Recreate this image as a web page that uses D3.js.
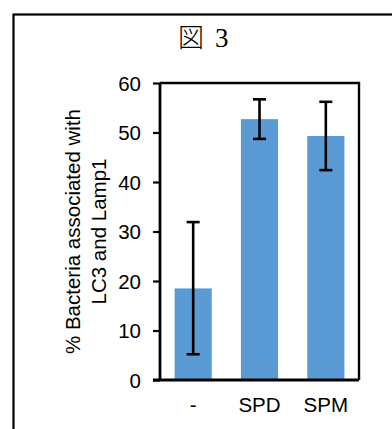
<!DOCTYPE html>
<html>
<head>
<meta charset="utf-8">
<script src="https://cdn.jsdelivr.net/npm/d3@7"></script>
<style>
  html, body { margin: 0; padding: 0; background: #fff; }
  svg { display: block; }
</style>
</head>
<body>
<div id="chart"></div>
<script>
const categories = ['-', 'SPD', 'SPM'];
const means = [18.5, 52.7, 49.3];
const errLow = [5.2, 48.7, 42.4];
const errHigh = [31.9, 56.7, 56.2];
const yTicks = [0, 10, 20, 30, 40, 50, 60];
const titleParts = ['図', '3'];
const yLabelLines = ['% Bacteria associated with', 'LC3 and Lamp1'];

const w = 392;
const h = 429;
const plot = {left: 160, right: 359, top: 83, bottom: 380};

const svg = d3.select('#chart').append('svg')
  .attr('width', w)
  .attr('height', h);

svg.append('rect')
  .attr('width', w).attr('height', h)
  .attr('fill', '#fff');

// outer frame (runs off the right and bottom edges)
svg.append('rect')
  .attr('x', 13.5).attr('y', 14.5)
  .attr('width', 400).attr('height', 440)
  .attr('fill', 'none')
  .attr('stroke', '#000')
  .attr('stroke-width', 2.2);

// title: kanji + serif digit
const title = svg.append('text')
  .attr('y', 46.5)
  .attr('fill', '#000');
title.append('tspan')
  .attr('x', 178)
  .attr('font-family', '"Noto Sans CJK JP", sans-serif')
  .attr('font-size', 26)
  .attr('font-weight', 300)
  .text(titleParts[0]);
title.append('tspan')
  .attr('x', 215)
  .attr('font-family', '"Liberation Serif", serif')
  .attr('font-size', 27)
  .text(titleParts[1]);

const x = d3.scaleBand()
  .domain(categories)
  .range([plot.left, plot.right])
  .paddingInner(0.44)
  .paddingOuter(0.22);

const y = d3.scaleLinear()
  .domain([0, 60])
  .range([plot.bottom, plot.top]);

// bars
svg.append('g')
  .selectAll('rect')
  .data(categories)
  .join('rect')
    .attr('x', d => x(d))
    .attr('y', (d, i) => y(means[i]))
    .attr('width', x.bandwidth())
    .attr('height', (d, i) => y(0) - y(means[i]))
    .attr('fill', '#5b9bd5');

// error bars
const capW = 13;
const err = svg.append('g')
  .attr('stroke', '#000')
  .attr('stroke-width', 2.6)
  .selectAll('g')
  .data(categories)
  .join('g')
    .attr('transform', d => `translate(${x(d) + x.bandwidth() / 2}, 0)`);

err.append('line')
  .attr('y1', (d, i) => y(errLow[i]))
  .attr('y2', (d, i) => y(errHigh[i]));
err.append('line')
  .attr('x1', -capW / 2).attr('x2', capW / 2)
  .attr('y1', (d, i) => y(errLow[i])).attr('y2', (d, i) => y(errLow[i]));
err.append('line')
  .attr('x1', -capW / 2).attr('x2', capW / 2)
  .attr('y1', (d, i) => y(errHigh[i])).attr('y2', (d, i) => y(errHigh[i]));

// plot frame: top and right
svg.append('path')
  .attr('d', `M${plot.left},${plot.top}H${plot.right}V${plot.bottom}`)
  .attr('fill', 'none')
  .attr('stroke', '#000')
  .attr('stroke-width', 2.4);

const font = '"Liberation Sans", Arial, sans-serif';
const fs = 20.5;

// y axis
const yAxis = svg.append('g')
  .attr('transform', `translate(${plot.left}, 0)`)
  .call(d3.axisLeft(y).tickValues(yTicks).tickSize(7).tickPadding(12));
yAxis.select('.domain')
  .attr('d', `M0,${plot.top}V${plot.bottom}`)
  .attr('stroke-width', 2.8);
yAxis.selectAll('.tick line').attr('stroke-width', 2.2);
yAxis.selectAll('.tick text')
  .attr('font-family', font)
  .attr('font-size', fs)
  .attr('fill', '#000')
  .attr('dy', '0.36em');

// x axis
const xAxis = svg.append('g')
  .attr('transform', `translate(0, ${plot.bottom})`)
  .call(d3.axisBottom(x).tickSize(0).tickPadding(17));
xAxis.select('.domain')
  .attr('d', `M${plot.left - 7},0H${plot.right}`)
  .attr('stroke-width', 2.8);
xAxis.selectAll('.tick text')
  .attr('font-family', font)
  .attr('font-size', fs)
  .attr('fill', '#000');

// y label
const yl = svg.append('text')
  .attr('transform', `translate(80, ${(plot.top + plot.bottom) / 2}) rotate(-90)`)
  .attr('text-anchor', 'middle')
  .attr('font-family', font)
  .attr('font-size', fs)
  .attr('fill', '#000');
yl.selectAll('tspan')
  .data(yLabelLines)
  .join('tspan')
    .attr('x', 0)
    .attr('y', (d, i) => i * 25.5)
    .text(d => d);
</script>
</body>
</html>
